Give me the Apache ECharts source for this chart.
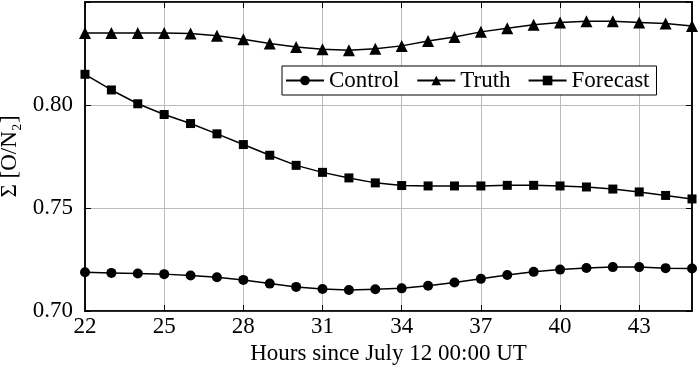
<!DOCTYPE html>
<html><head><meta charset="utf-8">
<script src="https://cdn.jsdelivr.net/npm/echarts@6/dist/echarts.min.js"></script>
<style>html,body{margin:0;padding:0;background:#fff}#c{width:700px;height:367px}</style>
</head><body><div id="c"></div>
<script>
const hours = [22,23,24,25,26,27,28,29,30,31,32,33,34,35,36,37,38,39,40,41,42,43,44,45];
const control = [0.7188,0.7185,0.7182,0.7179,0.7172,0.7164,0.7151,0.7133,0.7117,0.7107,0.7102,0.7106,0.7110,0.7123,0.7138,0.7156,0.7175,0.7190,0.7201,0.7209,0.7213,0.7213,0.7208,0.7206];
const truth = [0.8350,0.8350,0.8350,0.8349,0.8347,0.8336,0.8319,0.8298,0.8282,0.8271,0.8266,0.8273,0.8287,0.8311,0.8330,0.8355,0.8373,0.8389,0.8401,0.8406,0.8406,0.8401,0.8396,0.8384];
const forecast = [0.8149,0.8073,0.8006,0.7954,0.7910,0.7860,0.7808,0.7756,0.7707,0.7673,0.7646,0.7622,0.7609,0.7607,0.7607,0.7607,0.7610,0.7610,0.7607,0.7602,0.7592,0.7578,0.7561,0.7544];
const yTicks = [0.70, 0.75, 0.80];
const seriesNames = ['Control','Truth','Forecast'];

const font = 'Liberation Serif';
const chart = echarts.init(document.getElementById('c'), null, {renderer:'canvas'});
const showIdx = (i) => i % 3 === 0;
const mkSeries = (name, data, symbol, size) => ({
  name, type:'line', data, symbol, symbolSize:size, showSymbol:true,
  lineStyle:{color:'#000', width:1.5}, itemStyle:{color:'#000'}, smooth:false,
  xAxisIndex:0, yAxisIndex:0, z:3
});
chart.setOption({
  animation:false,
  backgroundColor:'#fff',
  grid:{left:85, right:8, top:2, bottom:56, show:true, borderColor:'#000', borderWidth:1.5, containLabel:false, outerBoundsMode:'none'},
  legend:{
    data:seriesNames, left:282, top:66, orient:'horizontal',
    backgroundColor:'#fff', borderColor:'#000', borderWidth:1, padding:[3,7,3,3],
    itemWidth:38, itemHeight:12, itemGap:17,
    textStyle:{fontFamily:font, fontSize:23, color:'#000'}
  },
  xAxis:[{
    type:'category', data:hours, boundaryGap:false, position:'bottom',
    axisLine:{show:true, lineStyle:{color:'#000', width:1.5}},
    axisTick:{show:true, inside:true, length:6, interval:(i)=>showIdx(i), lineStyle:{color:'#000'}},
    axisLabel:{interval:(i)=>showIdx(i), fontFamily:font, fontSize:23, color:'#000', margin:4},
    splitLine:{show:true, interval:(i)=>showIdx(i) && i>0, lineStyle:{color:'#bbb', width:1}},
    name:'Hours since July 12 00:00 UT', nameLocation:'middle', nameGap:29,
    nameTextStyle:{fontFamily:font, fontSize:23, color:'#000'}
  },{
    type:'category', data:hours, boundaryGap:false, position:'top',
    axisLine:{show:true, lineStyle:{color:'#000', width:1.5}},
    axisTick:{show:true, inside:true, length:6, interval:(i)=>showIdx(i), lineStyle:{color:'#000'}},
    axisLabel:{show:false}, splitLine:{show:false}
  }],
  yAxis:[{
    type:'value', min:0.70, max:0.85, interval:0.05,
    axisLine:{show:true, lineStyle:{color:'#000', width:1.5}},
    axisTick:{show:true, inside:true, length:6, lineStyle:{color:'#000'}},
    axisLabel:{fontFamily:font, fontSize:23, color:'#000', margin:12,
      formatter:(v)=> yTicks.some(t=>Math.abs(t-v)<1e-6) ? v.toFixed(2) : ''},
    splitLine:{show:true, lineStyle:{color:'#bbb', width:1}},
    name:'Σ [O/N₂]', nameLocation:'middle', nameGap:57, nameRotate:90,
    nameTextStyle:{fontFamily:font, fontSize:23, color:'#000'}
  },{
    type:'value', min:0.70, max:0.85, interval:0.05, position:'right',
    axisLine:{show:true, lineStyle:{color:'#000', width:1.5}},
    axisTick:{show:true, inside:true, length:6, lineStyle:{color:'#000'}},
    axisLabel:{show:false}, splitLine:{show:false}
  }],
  series:[
    mkSeries(seriesNames[0], control, 'circle', 10),
    mkSeries(seriesNames[1], truth, 'triangle', 12),
    mkSeries(seriesNames[2], forecast, 'rect', 9)
  ]
});
</script></body></html>
